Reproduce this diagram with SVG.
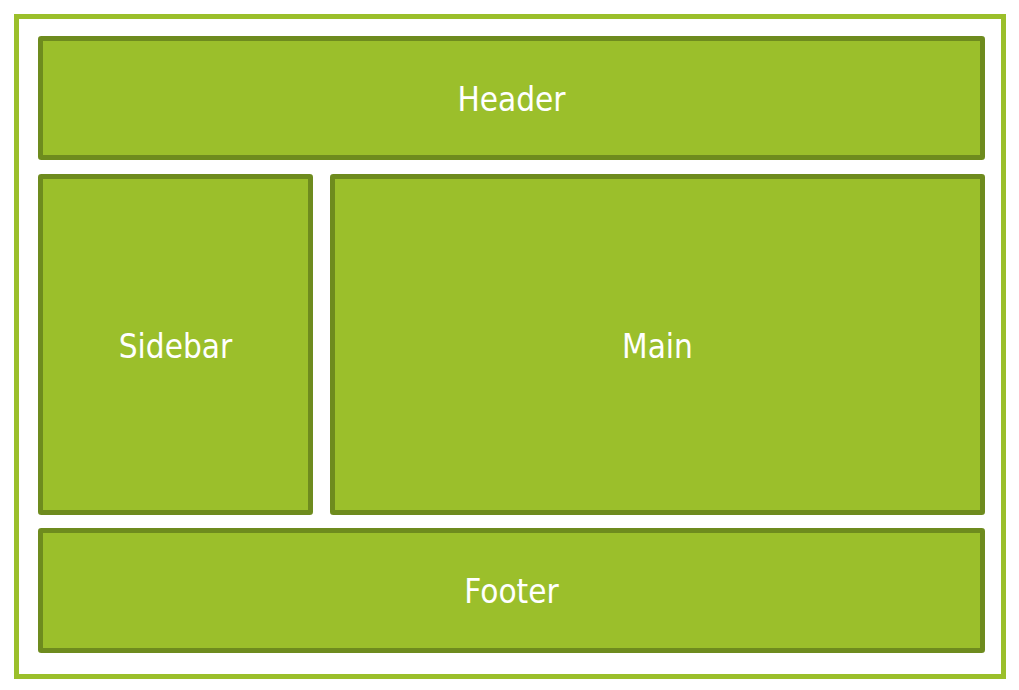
<svg xmlns="http://www.w3.org/2000/svg" width="1019" height="690" viewBox="0 0 1019 690">
  <style>
    .frame { fill: #ffffff; stroke: #9bbf2b; stroke-width: 5; }
    .region { fill: #9bbf2b; stroke: #6e8b1e; stroke-width: 5; }
    .label { fill: #ffffff; font-family: "DejaVu Sans Condensed", "DejaVu Sans", sans-serif; font-size: 33px; text-anchor: middle; }
  </style>
  <rect width="1019" height="690" fill="#ffffff"/>
  <!-- page frame -->
  <rect id="page" class="frame" x="16.5" y="16.5" width="987" height="660"/>
  <g id="header">
    <rect class="region" x="40.5" y="38.5" width="942" height="119" rx="0.8"/>
    <text class="label" x="511.5" y="110.5">Header</text>
  </g>
  <g id="sidebar">
    <rect class="region" x="40.5" y="176.5" width="270" height="336" rx="0.8"/>
    <text class="label" x="175.5" y="357.5">Sidebar</text>
  </g>
  <g id="main">
    <rect class="region" x="332.5" y="176.5" width="650" height="336" rx="0.8"/>
    <text class="label" x="657.5" y="357.5">Main</text>
  </g>
  <g id="footer">
    <rect class="region" x="40.5" y="530.5" width="942" height="120" rx="0.8"/>
    <text class="label" x="511.5" y="602.5">Footer</text>
  </g>
  <g id="connectors"/>
</svg>
